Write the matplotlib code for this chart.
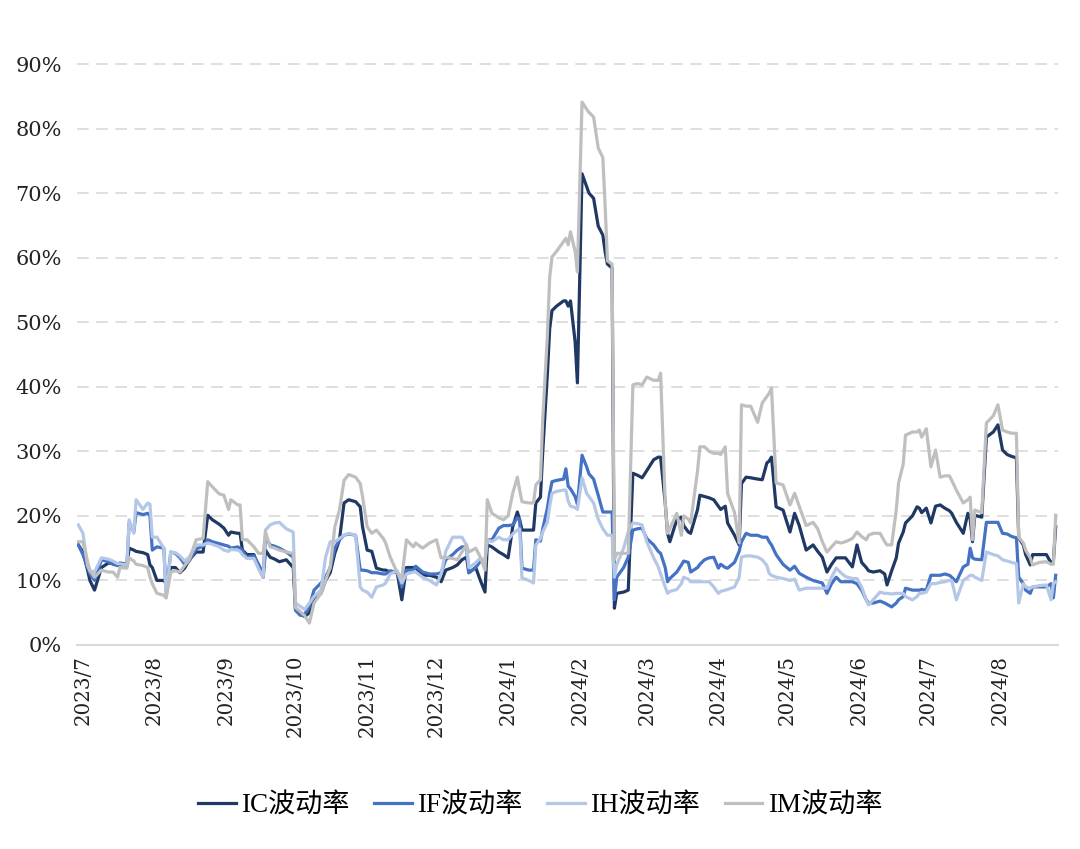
import matplotlib
matplotlib.use("Agg")
import matplotlib.pyplot as plt
import matplotlib.dates as mdates
from matplotlib.ticker import FuncFormatter, MultipleLocator
import pandas as pd

dates = [
    "2023-06-29", "2023-07-01", "2023-07-03", "2023-07-04", "2023-07-06", "2023-07-09", "2023-07-12",
    "2023-07-14", "2023-07-16", "2023-07-17", "2023-07-20", "2023-07-21", "2023-07-23", "2023-07-24",
    "2023-07-27", "2023-07-29", "2023-07-30", "2023-07-31", "2023-08-02", "2023-08-05", "2023-08-06",
    "2023-08-08", "2023-08-10", "2023-08-12", "2023-08-14", "2023-08-16", "2023-08-19", "2023-08-22",
    "2023-08-24", "2023-08-26", "2023-08-29", "2023-08-31", "2023-09-02", "2023-09-03", "2023-09-06",
    "2023-09-07", "2023-09-08",
    "2023-09-10", "2023-09-13", "2023-09-15", "2023-09-17", "2023-09-18", "2023-09-20", "2023-09-22",
    "2023-09-24", "2023-09-27", "2023-09-30", "2023-10-01", "2023-10-03", "2023-10-05", "2023-10-07",
    "2023-10-09", "2023-10-12", "2023-10-14", "2023-10-16", "2023-10-18", "2023-10-20", "2023-10-22",
    "2023-10-24", "2023-10-27", "2023-10-29", "2023-10-30", "2023-11-01", "2023-11-03", "2023-11-05",
    "2023-11-08", "2023-11-09", "2023-11-11", "2023-11-14", "2023-11-16", "2023-11-18", "2023-11-21",
    "2023-11-22", "2023-11-25", "2023-11-28", "2023-12-01", "2023-12-03", "2023-12-05", "2023-12-08",
    "2023-12-10", "2023-12-12", "2023-12-14", "2023-12-15", "2023-12-18", "2023-12-20", "2023-12-22",
    "2023-12-23", "2023-12-25", "2023-12-28", "2023-12-30", "2024-01-01", "2024-01-03", "2024-01-05",
    "2024-01-06", "2024-01-07", "2024-01-10", "2024-01-12", "2024-01-13", "2024-01-15",
    "2024-01-16", "2024-01-18", "2024-01-19", "2024-01-20", "2024-01-22", "2024-01-25", "2024-01-26",
    "2024-01-27", "2024-01-28", "2024-01-30", "2024-01-31", "2024-02-02", "2024-02-04", "2024-02-05",
    "2024-02-07", "2024-02-09", "2024-02-11", "2024-02-12", "2024-02-13", "2024-02-15", "2024-02-16",
    "2024-02-17", "2024-02-20", "2024-02-22", "2024-02-24",
    "2024-02-26", "2024-02-28", "2024-03-01", "2024-03-04", "2024-03-06", "2024-03-07", "2024-03-09",
    "2024-03-10", "2024-03-11", "2024-03-14", "2024-03-16", "2024-03-17", "2024-03-19", "2024-03-20",
    "2024-03-23", "2024-03-24", "2024-03-26", "2024-03-28", "2024-03-30", "2024-04-01", "2024-04-02",
    "2024-04-04", "2024-04-05", "2024-04-08", "2024-04-10", "2024-04-11", "2024-04-13", "2024-04-15",
    "2024-04-18", "2024-04-20", "2024-04-22", "2024-04-23",
    "2024-04-24", "2024-04-26", "2024-04-29", "2024-05-02", "2024-05-04", "2024-05-06", "2024-05-09",
    "2024-05-12", "2024-05-14", "2024-05-16", "2024-05-18", "2024-05-20", "2024-05-22", "2024-05-24",
    "2024-05-26", "2024-05-29", "2024-05-31", "2024-06-02", "2024-06-04", "2024-06-05", "2024-06-07",
    "2024-06-10", "2024-06-12", "2024-06-13", "2024-06-15", "2024-06-17", "2024-06-18", "2024-06-20",
    "2024-06-21", "2024-06-24", "2024-06-26", "2024-06-27", "2024-06-28", "2024-06-30",
    "2024-07-02", "2024-07-04", "2024-07-06", "2024-07-08", "2024-07-10", "2024-07-11", "2024-07-13",
    "2024-07-16", "2024-07-18", "2024-07-19", "2024-07-20", "2024-07-21", "2024-07-24", "2024-07-26",
    "2024-07-29", "2024-07-31", "2024-08-02", "2024-08-04", "2024-08-06", "2024-08-08", "2024-08-09",
    "2024-08-11", "2024-08-12", "2024-08-14", "2024-08-15", "2024-08-18", "2024-08-21", "2024-08-23",
    "2024-08-24", "2024-08-25",
]

ic_vol = [
    15.5, 14.4, 11.6, 10.0, 8.5, 12.0, 12.7, 12.6, 12.4, 12.7, 12.5, 15.0, 14.7, 14.5, 14.3, 14.0, 12.4,
    12.0, 10.0, 10.0, 9.5, 12.0, 12.0, 11.2, 11.9, 13.2, 14.4, 14.4, 20.1, 19.4, 18.7, 18.1, 17.0, 17.5,
    17.3, 17.3, 14.7,
    14.0, 14.0, 12.0, 10.5, 14.7, 13.6, 13.3, 12.9, 13.2, 12.0, 5.4, 4.8, 4.4, 5.0, 7.0, 8.0, 10.0, 11.2,
    14.2, 16.3, 22.0, 22.5, 22.2, 21.4, 18.3, 14.7, 14.5, 11.9, 11.6, 11.6, 11.3, 11.2, 7.0, 12.0, 12.0,
    12.0, 10.8, 10.8, 10.5, 9.8, 11.6, 12.0, 12.4, 13.2, 13.6, 11.2, 12.0, 10.0, 8.2, 15.5, 15.2, 14.4,
    14.0, 13.5, 18.3, 20.6, 19.4, 17.8, 17.8, 17.8, 22.0, 22.9,
    30.0, 42.0, 49.0, 51.8, 52.5, 53.3, 53.3, 52.5, 53.3, 47.0, 40.6, 73.0, 71.0, 70.0, 69.2, 64.9, 63.5,
    60.9, 59.0, 58.4, 5.7, 8.0, 8.2, 8.5, 26.6,
    26.3, 25.9, 27.0, 28.7, 29.1, 29.1, 22.0, 17.3, 16.0, 19.4, 19.8, 18.5, 17.5, 17.3, 21.0, 23.2, 23.0,
    22.8, 22.5, 21.5, 21.0, 21.5, 18.9, 17.0, 15.5, 25.0, 26.0, 25.9, 25.7, 25.6, 28.2, 28.5,
    29.1, 21.4, 20.9, 17.5, 20.4, 18.5, 14.7, 15.5, 14.5, 13.6, 11.3, 12.5, 13.5, 13.5, 13.5, 12.1, 15.5,
    12.8, 12.0, 11.5, 11.3, 11.5, 11.0, 9.3, 11.5, 13.5, 15.8, 17.5, 18.9, 20.0, 21.4, 21.2, 20.5, 21.2,
    18.9, 21.5, 21.7, 21.2, 20.8, 20.4, 19.0, 17.3, 20.4, 19.5, 16.0, 20.1, 19.8, 32.2, 33.0, 34.1, 30.2,
    29.5, 29.2, 29.0, 16.6, 15.5, 14.0, 12.4, 14.0, 14.0, 14.0, 12.7, 13.0, 18.3,
]

if_vol = [
    15.5, 14.0, 12.0, 11.0, 10.0, 13.2, 12.9, 12.5, 12.3, 12.5, 12.3, 19.0, 17.5, 20.5, 20.2, 20.4, 20.0,
    14.7, 15.2, 15.0, 8.0, 14.4, 14.2, 13.5, 12.5, 13.0, 14.9, 15.3, 16.3, 16.0, 15.7, 15.5, 15.3, 15.0,
    15.2, 15.0, 14.6,
    13.6, 13.8, 12.5, 11.0, 16.7, 15.5, 15.3, 15.0, 14.4, 13.6, 5.4, 4.6, 4.8, 6.0, 8.5, 9.6, 10.5, 12.0,
    15.0, 16.3, 17.0, 17.2, 17.0, 11.6, 11.6, 11.5, 11.2, 11.2, 11.0, 11.0, 11.5, 11.2, 9.0, 11.6, 11.6,
    12.2, 11.3, 11.0, 11.0, 11.2, 13.2, 14.0, 14.7, 15.2, 15.2, 11.2, 12.0, 13.0, 12.8, 16.3, 16.3, 18.1,
    18.5, 18.5, 18.6, 19.7, 19.4, 11.9, 11.6, 11.6, 16.3, 16.1,
    18.0, 21.2, 23.5, 25.3, 25.5, 25.7, 27.3, 24.6, 24.2, 23.0, 21.8, 29.4, 27.6, 26.5, 25.7, 23.2, 20.6,
    20.6, 20.6, 20.6, 7.0, 10.5, 12.0, 13.6, 17.8,
    18.0, 18.1, 16.5, 15.5, 14.5, 14.2, 12.0, 9.8, 10.3, 11.3, 12.4, 13.0, 12.8, 11.3, 12.0, 12.5, 13.2,
    13.5, 13.6, 11.9, 12.5, 12.0, 11.9, 12.8, 14.5, 16.0, 17.3, 17.0, 17.0, 16.7, 16.7, 16.0,
    15.5, 14.0, 12.5, 11.6, 12.2, 11.1, 10.5, 10.0, 9.8, 9.6, 8.0, 9.5, 10.5, 9.8, 9.8, 9.8, 9.5,
    8.5, 7.0, 6.5, 6.5, 6.8, 6.5, 6.3, 5.9, 6.5, 7.0, 7.5, 8.8, 8.5, 8.5, 8.5, 8.6, 8.5,
    10.8, 10.8, 10.8, 11.0, 10.8, 10.5, 9.8, 12.1, 12.5, 15.0, 13.5, 13.3, 13.2, 19.0, 19.0, 19.0, 17.3,
    17.2, 16.8, 16.6, 10.5, 9.5, 8.5, 8.0, 9.0, 9.0, 9.0, 9.5, 7.3, 10.8,
]

ih_vol = [
    18.6, 17.3, 12.3, 11.5, 11.3, 13.5, 13.3, 13.0, 12.6, 12.6, 12.4, 19.4, 17.3, 22.5, 21.0, 22.0, 21.8,
    16.7, 16.7, 15.0, 7.3, 14.4, 14.3, 13.8, 13.0, 13.6, 15.5, 15.5, 15.8, 15.6, 15.2, 14.7, 14.5, 14.8,
    14.7, 14.5, 14.0,
    13.4, 13.4, 11.8, 10.5, 17.8, 18.6, 18.9, 19.0, 18.0, 17.5, 6.5, 6.0, 5.5, 6.5, 7.5, 8.5, 13.6, 16.0,
    16.0, 16.5, 17.0, 17.3, 17.0, 9.0, 8.5, 8.2, 7.4, 9.0, 9.3, 9.6, 11.0, 11.5, 9.6, 11.0, 11.3,
    11.3, 10.5, 10.0, 9.3, 11.0, 14.5, 16.7, 16.7, 16.7, 15.5, 12.0, 12.7, 13.5, 13.0, 16.3, 16.0, 16.7,
    16.3, 16.3, 17.2, 17.8, 18.0, 10.4, 10.0, 9.6, 15.5, 16.5,
    17.5, 19.0, 21.5, 23.5, 23.8, 24.0, 24.0, 22.3, 21.5, 21.3, 21.0, 25.9, 23.5, 23.0, 22.0, 19.5, 18.0,
    17.5, 17.0, 17.0, 10.5, 12.4, 15.0, 17.5, 18.9,
    18.8, 18.6, 16.0, 13.5, 12.1, 11.0, 9.0, 8.0, 8.3, 8.6, 9.5, 10.5, 10.2, 9.8, 9.8, 9.8, 9.8,
    9.8, 9.0, 8.0, 8.3, 8.5, 8.6, 9.0, 10.5, 13.6, 13.8, 13.8, 13.6, 13.2, 12.3, 11.1,
    10.8, 10.5, 10.3, 10.0, 10.2, 8.5, 8.8, 8.8, 8.8, 8.8, 8.8, 10.5, 11.9, 11.2, 10.6, 10.3, 10.3,
    9.0, 7.0, 6.2, 7.0, 8.2, 8.0, 8.0, 7.9, 8.0, 8.0, 8.0, 7.5, 7.0, 7.5, 8.0, 8.0, 8.2,
    9.5, 9.5, 9.7, 9.8, 10.0, 10.0, 7.0, 10.0, 10.5, 10.8, 10.8, 10.5, 10.0, 14.4, 14.0, 13.8, 13.2,
    13.0, 12.8, 12.6, 6.5, 9.5, 9.0, 8.8, 9.0, 9.2, 9.3, 7.0, 9.5, 9.8,
]

im_vol = [
    16.0, 16.0, 12.9, 11.5, 10.5, 11.6, 11.3, 11.3, 10.5, 12.0, 11.9, 13.5, 13.0, 12.5, 12.3, 12.0, 10.5,
    9.5, 8.0, 7.7, 7.3, 11.3, 11.5, 11.3, 12.3, 13.2, 16.3, 16.5, 25.3, 24.5, 23.4, 23.2, 21.0, 22.5,
    21.7, 21.7, 16.3,
    16.3, 15.2, 14.2, 14.2, 17.5, 15.2, 15.0, 14.7, 14.4, 14.2, 5.8, 5.2, 4.5, 3.4, 6.5, 8.0, 10.0, 12.0,
    18.3, 20.9, 25.5, 26.4, 26.0, 25.0, 23.0, 18.3, 17.3, 17.8, 16.5, 15.8, 13.6, 11.2, 10.4, 16.3, 15.2,
    15.8, 15.0, 15.8, 16.3, 13.5, 13.6, 13.4, 13.2, 14.4, 15.5, 14.4, 15.0, 13.6, 11.6, 22.5, 20.4, 19.7,
    19.4, 20.0, 23.5, 26.0, 24.0, 22.2, 22.0, 22.0, 24.8, 25.6,
    35.0, 48.0, 57.0, 60.1, 61.0, 62.5, 63.0, 62.0, 64.0, 61.0, 57.8, 84.1, 83.0, 82.5, 81.8, 77.0, 75.5,
    68.0, 59.5, 59.0, 13.2, 14.2, 14.2, 14.2, 40.3,
    40.5, 40.3, 41.5, 41.0, 41.0, 42.1, 22.0, 17.3, 18.0, 20.4, 17.0, 20.0, 19.5, 18.9, 27.0, 30.7, 30.7,
    30.0, 29.7, 29.7, 29.5, 30.7, 23.5, 20.5, 15.8, 37.2, 37.0, 37.0, 34.5, 37.5, 38.5, 39.0,
    39.8, 25.1, 24.8, 21.7, 23.5, 21.5, 18.5, 19.0, 18.0, 16.0, 14.4, 15.2, 16.0, 15.8, 16.0, 16.5, 17.5,
    16.8, 16.3, 17.0, 17.3, 17.3, 16.0, 15.5, 15.5, 20.9, 25.1, 28.0, 32.5, 33.0, 33.0, 33.3, 32.2, 33.5,
    27.6, 30.2, 26.0, 26.2, 26.2, 25.5, 24.0, 22.0, 22.5, 22.9, 16.3, 20.9, 20.5, 34.4, 35.5, 37.2, 33.3,
    33.0, 32.8, 32.8, 16.7, 15.8, 14.7, 13.5, 12.4, 12.8, 12.9, 12.5, 12.5, 20.1,
]

series_names = ["IC波动率", "IF波动率", "IH波动率", "IM波动率"]
series_values = [ic_vol, if_vol, ih_vol, im_vol]
colors = ["#203864", "#4472C4", "#B4C7E7", "#BFBFBF"]

W, H = 1080, 849
fig = plt.figure(figsize=(W / 100, H / 100), dpi=100)
px_per_pct = (645 - 64) / 90.0
ytop = 91
ax = fig.add_axes([77 / W, 1 - 645 / H, (1058 - 77) / W, (ytop * px_per_pct) / H])

x = pd.to_datetime(dates)
handles = []
for vals, name, c in zip(series_values, series_names, colors):
    h, = ax.plot(x, vals, color=c, lw=2.3, label=name, solid_joinstyle="round")
    handles.append(h)

ax.set_ylim(0, ytop)
ax.yaxis.set_major_locator(MultipleLocator(10))
ax.yaxis.set_major_formatter(FuncFormatter(lambda v, p: f"{v:.0f}%"))
ax.set_xlim(pd.Timestamp("2023-06-28 10:00"), pd.Timestamp("2024-08-26 00:00"))
ax.xaxis.set_major_locator(mdates.MonthLocator())
ax.xaxis.set_major_formatter(
    FuncFormatter(lambda v, p: f"{mdates.num2date(v).year}/{mdates.num2date(v).month}")
)

ax.yaxis.grid(True, color="#D9D9D9", lw=1.2, ls=(0, (7, 4.5)))
ax.set_axisbelow(True)
for s in ["left", "top", "right"]:
    ax.spines[s].set_visible(False)
ax.spines["bottom"].set_color("#D9D9D9")
ax.spines["bottom"].set_linewidth(1.5)

ax.tick_params(axis="both", length=0)
ax.tick_params(axis="y", pad=11, labelsize=15, labelcolor="#222222")
ax.tick_params(axis="x", pad=7, labelsize=14.3, labelcolor="#222222")
for lab in ax.get_yticklabels() + ax.get_xticklabels():
    lab.set_family("DejaVu Serif")
for lab in ax.get_xticklabels():
    lab.set_rotation(90)
    lab.set_ha("center")
    lab.set_va("top")

fig.legend(
    handles, series_names, loc="center", bbox_to_anchor=(0.5, 1 - 806 / H), ncol=4,
    frameon=False, prop={"family": ["Liberation Serif", "Noto Sans CJK SC"], "size": 19.5},
    handlelength=1.4, handletextpad=0.2, columnspacing=0.9,
)

fig.savefig("out.png", dpi=100)
